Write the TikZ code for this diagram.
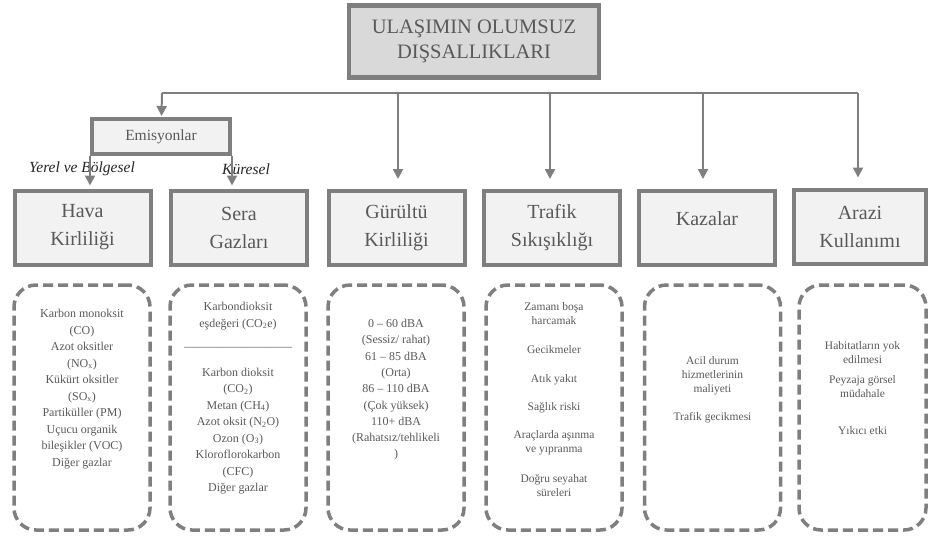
\documentclass[tikz,border=0pt]{standalone}
\usepackage{fontspec}
\setmainfont{Liberation Serif}
\usetikzlibrary{arrows.meta}
\definecolor{edge}{HTML}{7F7F7F}
\definecolor{ink}{HTML}{595959}
\definecolor{topfill}{HTML}{D9D9D9}
\definecolor{catfill}{HTML}{F2F2F2}
\begin{document}
\begin{tikzpicture}[x=1pt, y=-1pt,
  topbox/.style={draw=edge, line width=4.5pt, fill=topfill, text=ink, align=center,
                 minimum width=250pt, minimum height=72pt, font={\fontsize{20.5}{25}\selectfont}},
  emisbox/.style={draw=edge, line width=4pt, fill=catfill, text=ink,
                  minimum width=138pt, minimum height=35pt, font={\fontsize{15.5}{18}\selectfont}},
  catbox/.style={draw=edge, line width=4pt, fill=catfill, text=ink, align=center,
                 minimum width=136pt, minimum height=74pt, font={\fontsize{20}{28}\selectfont}},
  listbox/.style={draw=edge, line width=3.5pt, dash pattern=on 10pt off 5pt, rounded corners=22pt,
                  minimum width=136pt, minimum height=245pt},
  listtxt/.style={anchor=north, inner sep=0pt, text=ink, align=center, font={\fontsize{12}{16.5}\selectfont}},
  smalltxt/.style={listtxt, font={\fontsize{11.5}{14}\selectfont}},
  tag/.style={font={\fontsize{15.5}{18}\selectfont\itshape}, text=black!85},
  conn/.style={draw=edge, line width=2pt},
  arr/.style={conn, -{Triangle[width=10pt,length=10pt]}}
]
\useasboundingbox (0,0) rectangle (928,536);

\node[topbox] (top) at (474,41.5) {ULAŞIMIN OLUMSUZ\\DIŞSALLIKLARI};
\node[emisbox] (emis) at (161,136.5) {Emisyonlar};

\node[catbox] (hava)    at (82.5,227.5) {Hava\\Kirliliği};
\node[catbox] (sera)    at (239,227.5)  {Sera\\Gazları};
\node[catbox] (gurultu) at (396.5,228)  {Gürültü\\Kirliliği};
\node[catbox] (trafik)  at (552,228)    {Trafik\\Sıkışıklığı};
\node[catbox] (kazalar) at (707,228)    {Kazalar\\[-10pt]\mbox{}};
\node[catbox, minimum width=132pt] (arazi) at (860,226.5) {Arazi\\Kullanımı};

\node[tag] (yerel)   at (82,169)  {Yerel ve Bölgesel};
\node[tag] (kuresel) at (246,169) {Küresel};

\coordinate (bus-w) at (162,93);
\coordinate (bus-e) at (858,93);
\draw[conn] (bus-w) -- (bus-e);
\draw[arr, shorten >=1pt] (bus-w) -- (emis);
\draw[arr, shorten >=10pt] (bus-w -| 398,0) -- (398,0 |- gurultu.north);
\draw[arr, shorten >=10pt] (bus-w -| 550,0) -- (550,0 |- trafik.north);
\draw[arr, shorten >=10pt] (bus-w -| 703,0) -- (703,0 |- kazalar.north);
\draw[arr, shorten >=10pt] (bus-e) -- (bus-e |- arazi.north);
\draw[arr, shorten >=3pt] (emis.south west) -- (emis.south west |- hava.north);
\draw[arr, shorten >=3pt] (emis.south east) -- (emis.south east |- sera.north);

\node[listbox] (hava-l)    at (82,407.5)  {};
\node[listbox] (sera-l)    at (238,407.5) {};
\node[listbox] (gurultu-l) at (396,407.5) {};
\node[listbox] (trafik-l)  at (554,407.5) {};
\node[listbox] (kazalar-l) at (712.5,407.5) {};
\node[listbox, minimum width=127pt] (arazi-l) at (862.5,407.5) {};

\node[listtxt] (hava-t) at (82,309) {Karbon monoksit\\(CO)\\Azot oksitler\\(NO\textsubscript{x})\\Kükürt oksitler\\(SO\textsubscript{x})\\Partiküller (PM)\\Uçucu organik\\bileşikler (VOC)\\Diğer gazlar};
\node[listtxt] (sera-t) at (238,302) {Karbondioksit\\eşdeğeri (CO\textsubscript{2}e)\\[7pt]—————————\\[9pt]Karbon dioksit\\(CO\textsubscript{2})\\Metan (CH\textsubscript{4})\\Azot oksit (N\textsubscript{2}O)\\Ozon (O\textsubscript{3})\\Kloroflorokarbon\\(CFC)\\Diğer gazlar};
\node[listtxt, font={\fontsize{12}{16.3}\selectfont}] (gurultu-t) at (396,319) {0 – 60 dBA\\(Sessiz/ rahat)\\61 – 85 dBA\\(Orta)\\86 – 110 dBA\\(Çok yüksek)\\110+ dBA\\(Rahatsız/tehlikeli\\)};
\node[smalltxt] (trafik-t) at (554,302) {Zamanı boşa\\harcamak\\[15pt]Gecikmeler\\[15pt]Atık yakıt\\[14pt]Sağlık riski\\[14pt]Araçlarda aşınma\\ve yıpranma\\[16pt]Doğru seyahat\\süreleri};
\node[smalltxt] (kazalar-t) at (712.5,356) {Acil durum\\hizmetlerinin\\maliyeti\\[14pt]Trafik gecikmesi};
\node[smalltxt] (arazi-t) at (862.5,341) {Habitatların yok\\edilmesi\\[6pt]Peyzaja görsel\\müdahale\\[23pt]Yıkıcı etki};
\end{tikzpicture}
\end{document}
